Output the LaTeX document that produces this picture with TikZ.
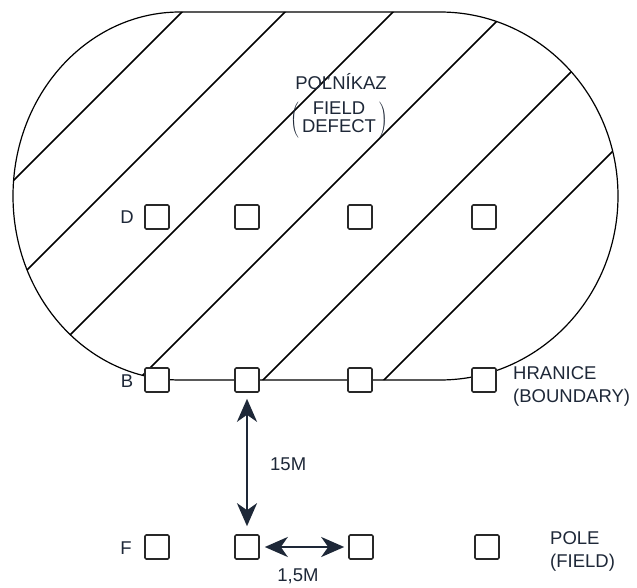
\documentclass[tikz,border=0pt]{standalone}
\usepackage{fontspec}
\setmainfont{Liberation Sans}
\usetikzlibrary{arrows.meta}
\definecolor{txt}{RGB}{30,40,56}
\definecolor{boxc}{RGB}{40,40,40}
\tikzset{
  cell/.style={draw=boxc,line width=1.6pt,fill=white,minimum size=24pt,inner sep=0pt,rounded corners=1.2pt},
  lbl/.style={text=txt,font=\fontsize{18.5}{23}\selectfont,inner sep=0pt},
  hatch/.style={line width=1.7pt,black},
  bound/.style={line width=1.2pt,black},
  dimarrow/.style={line width=2.6pt,txt,{Stealth[length=23pt,width=20pt,inset=7pt]}-{Stealth[length=23pt,width=20pt,inset=7pt]}}
}
\begin{document}
\begin{tikzpicture}[x=1pt,y=-1pt]
\useasboundingbox (0,0) rectangle (637,588);
\fill[white] (0,0) rectangle (637,588);
% hatch clipped by the field outline
\begin{scope}
\clip (180,12) -- (440,12) arc[start angle=90,end angle=-90,x radius=178pt,y radius=184pt]
  -- (180,380) arc[start angle=270,end angle=90,x radius=167pt,y radius=184pt] -- cycle;
\foreach \c in {194,297,405,518,643,764}{
  \draw[hatch] (\c+20,-20) -- (\c-440,440);
}
\end{scope}
% outline
\draw[bound] (180,12) -- (440,12) arc[start angle=90,end angle=-90,x radius=178pt,y radius=184pt]
  -- (180,380) arc[start angle=270,end angle=90,x radius=167pt,y radius=184pt] -- cycle;
% boxes
\node[cell] (d1) at (157,217) {};
\node[cell] (d2) at (247,217) {};
\node[cell] (d3) at (360,217) {};
\node[cell] (d4) at (484,217) {};
\node[cell] (b1) at (157,380) {};
\node[cell] (b2) at (247,380) {};
\node[cell] (b3) at (360,380) {};
\node[cell] (b4) at (484,380) {};
\node[cell] (f1) at (157,547) {};
\node[cell] (f2) at (247,547) {};
\node[cell] (f3) at (361,547) {};
\node[cell] (f4) at (487,547) {};
% row labels
\node[lbl] (ld) at (127,217) {D};
\node[lbl] (lb) at (127,381) {B};
\node[lbl] (lf) at (126,548) {F};
% arrows
\draw[dimarrow,shorten <=6pt,shorten >=8pt] (b2.south) -- (f2.north);
\draw[dimarrow,shorten <=5pt,shorten >=4pt] (f2.east) -- (f3.west);
\node[lbl,anchor=west] (l15) at (270,464) {15M};
\node[lbl] (l1p5) at (298,576) {1,5M};
% side labels
\node[lbl,anchor=west,align=left] (lh) at (513,386) {HRANICE\\(BOUNDARY)};
\node[lbl,anchor=west,align=left] (lp) at (550,551) {POLE\\(FIELD)};
% title
\node[lbl] (lt) at (341,82) {POĽNÍKAZ};
\node[lbl,font=\fontsize{18.5}{20}\selectfont] (ltf) at (339,120)
  {\renewcommand\arraystretch{0.82}$\left(\begin{tabular}{@{\,}c@{\,}}FIELD\\DEFECT\end{tabular}\right)$};
\end{tikzpicture}
\end{document}
